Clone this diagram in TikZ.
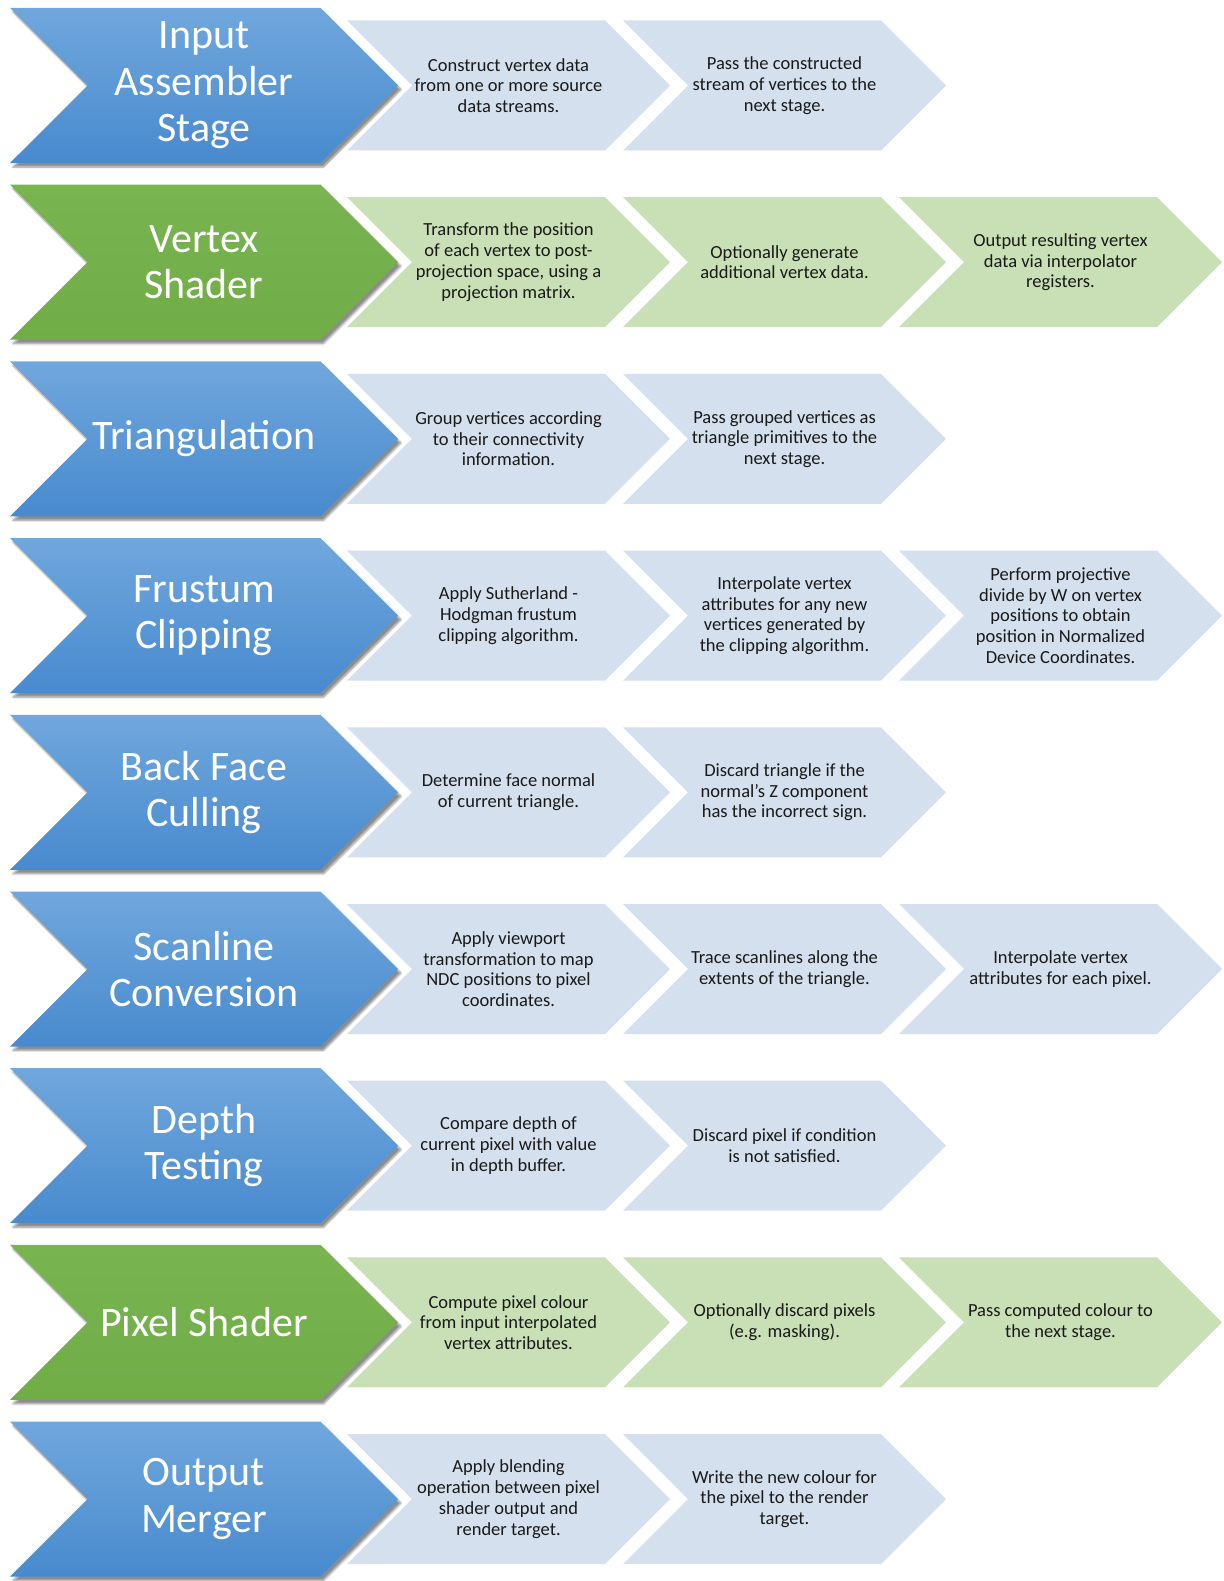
\documentclass[tikz,border=0pt]{standalone}
\usepackage{fontspec}
\setmainfont{Carlito}
\usetikzlibrary{shapes.symbols, shadows.blur}
\definecolor{stagetop}{RGB}{112, 167, 221}
\definecolor{stagebot}{RGB}{72, 138, 206}
\definecolor{stagegreen}{RGB}{112, 173, 71}
\definecolor{greentop}{RGB}{120, 180, 80}
\definecolor{lightblue}{RGB}{213, 224, 238}
\definecolor{lightgreen}{RGB}{201, 224, 182}
\definecolor{darktext}{RGB}{25, 25, 25}

\tikzset{
  chev/.style={signal, signal from=west, signal to=east, signal pointer angle=90,
    inner sep=0pt, outer sep=0pt, align=center},
  bigchev/.style={chev, minimum width=388pt, minimum height=155pt, text=white,
    font=\fontsize{42}{46.4}\selectfont,
    blur shadow={shadow xshift=3pt, shadow yshift=-4pt, shadow blur steps=6, shadow opacity=45}},
  bigblue/.style={bigchev, top color=stagetop, bottom color=stagebot},
  biggreen/.style={bigchev, top color=greentop, bottom color=stagegreen},
  smallchev/.style={chev, minimum width=323pt, minimum height=130pt, text=darktext,
    font=\fontsize{18.5}{20.7}\selectfont},
  smallblue/.style={smallchev, fill=lightblue},
  smallgreen/.style={smallchev, fill=lightgreen}
}

\begin{document}
\begin{tikzpicture}[x=1pt, y=-1pt]
\useasboundingbox (0,0) rectangle (1223,1581);

% Input assembler
\node[smallblue] (ia1) at (508.5,85.5) {Construct vertex data\\from one or more source\\data streams.};
\node[smallblue] (ia2) at (784.5,85.5) {Pass the constructed\\stream of vertices to the\\next stage.};
\node[bigblue] (ia) at (204,85.5) {Input\\Assembler\\Stage};

% Vertex shader
\node[smallgreen] (vs1) at (508.5,262.2) {Transform the position\\of each vertex to post-\\projection space, using a\\projection matrix.};
\node[smallgreen] (vs2) at (784.5,262.2) {Optionally generate\\additional vertex data.};
\node[smallgreen] (vs3) at (1060.5,262.2) {Output resulting vertex\\data via interpolator\\registers.};
\node[biggreen] (vs) at (204,262.2) {Vertex\\Shader};

% Triangulation
\node[smallblue] (tri1) at (508.5,438.9) {Group vertices according\\to their connectivity\\information.};
\node[smallblue] (tri2) at (784.5,438.9) {Pass grouped vertices as\\triangle primitives to the\\next stage.};
\node[bigblue] (tri) at (204,438.9) {Triangulation};

% Frustum clipping
\node[smallblue] (fc1) at (508.5,615.6) {Apply Sutherland -\\Hodgman frustum\\clipping algorithm.};
\node[smallblue] (fc2) at (784.5,615.6) {Interpolate vertex\\attributes for any new\\vertices generated by\\the clipping algorithm.};
\node[smallblue] (fc3) at (1060.5,615.6) {Perform projective\\divide by W on vertex\\positions to obtain\\position in Normalized\\Device Coordinates.};
\node[bigblue] (fc) at (204,615.6) {Frustum\\Clipping};

% Back face culling
\node[smallblue] (bf1) at (508.5,792.3) {Determine face normal\\of current triangle.};
\node[smallblue] (bf2) at (784.5,792.3) {Discard triangle if the\\normal's Z component\\has the incorrect sign.};
\node[bigblue] (bf) at (204,792.3) {Back Face\\Culling};

% Scanline conversion
\node[smallblue] (sc1) at (508.5,969) {Apply viewport\\transformation to map\\NDC positions to pixel\\coordinates.};
\node[smallblue] (sc2) at (784.5,969) {Trace scanlines along the\\extents of the triangle.};
\node[smallblue] (sc3) at (1060.5,969) {Interpolate vertex\\attributes for each pixel.};
\node[bigblue] (sc) at (204,969) {Scanline\\Conversion};

% Depth testing
\node[smallblue] (dt1) at (508.5,1145.7) {Compare depth of\\current pixel with value\\in depth buffer.};
\node[smallblue] (dt2) at (784.5,1145.7) {Discard pixel if condition\\is not satisfied.};
\node[bigblue] (dt) at (204,1145.7) {Depth\\Testing};

% Pixel shader
\node[smallgreen] (ps1) at (508.5,1322.4) {Compute pixel colour\\from input interpolated\\vertex attributes.};
\node[smallgreen] (ps2) at (784.5,1322.4) {Optionally discard pixels\\(e.g. masking).};
\node[smallgreen] (ps3) at (1060.5,1322.4) {Pass computed colour to\\the next stage.};
\node[biggreen] (ps) at (204,1322.4) {Pixel Shader};

% Output merger
\node[smallblue] (om1) at (508.5,1499.1) {Apply blending\\operation between pixel\\shader output and\\render target.};
\node[smallblue] (om2) at (784.5,1499.1) {Write the new colour for\\the pixel to the render\\target.};
\node[bigblue] (om) at (204,1499.1) {Output\\Merger};
\end{tikzpicture}
\end{document}
